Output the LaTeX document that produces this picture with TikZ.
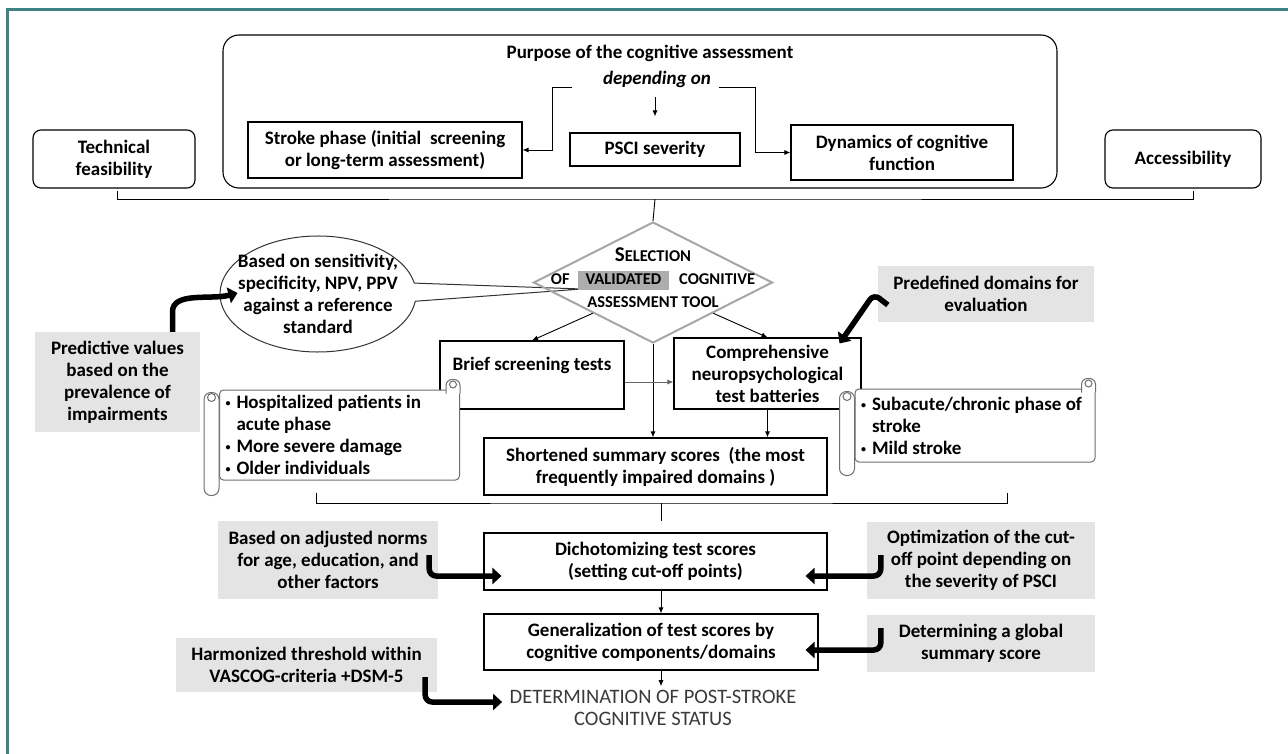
\documentclass[tikz,border=0pt]{standalone}
\usepackage{fontspec}
\setmainfont{Carlito}
\usepackage{tikz}
\usetikzlibrary{arrows.meta,positioning,shapes.geometric,shapes.callouts}
\definecolor{frameTeal}{HTML}{3F8283}
\definecolor{noteGray}{HTML}{E4E4E4}
\definecolor{hlGray}{HTML}{ADADAD}
\definecolor{guardGray}{HTML}{A6A6A6}
\definecolor{scrollGray}{HTML}{6E6E6E}
\definecolor{statusGray}{HTML}{3A3A3A}

\begin{document}
\begin{tikzpicture}[
  x=1pt,y=1pt,
  txt/.style={font=\fontsize{19}{22}\selectfont\bfseries},
  box/.style={txt,rectangle,draw=black,fill=white,line width=1.1pt,align=center,inner sep=1pt},
  rbox/.style={box,rounded corners=8pt},
  note/.style={txt,rectangle,fill=noteGray,align=center,inner sep=0pt},
  scrollbody/.style={txt,rectangle,rounded corners=4pt,draw=scrollGray,fill=white,line width=1pt,align=flush left,inner xsep=6pt,inner ysep=0pt,text width=228pt},
  scrl/.style={draw=scrollGray,fill=white,line width=1pt},
  guard/.style={diamond,draw=guardGray,line width=2pt,inner sep=0pt,minimum width=239pt,minimum height=121pt},
  arrow/.style={-{Latex[length=6pt,width=5pt]},line width=0.9pt},
  greyarrow/.style={-{Latex[length=6pt,width=5pt]},line width=0.7pt,draw=black!60},
  link/.style={line width=0.9pt},
  fat/.style={-{Triangle[length=9pt,width=16pt]},line width=5.5pt,rounded corners=7pt}
]
\useasboundingbox (0,0) rectangle (1288,-754);
\draw[frameTeal,line width=3pt] (7,-754) -- (7,-10) -- (1288,-10);

% top row
\node[rbox,rounded corners=16pt,minimum width=834pt,minimum height=153pt] (purpose) at (640,-111.5) {};
\node[txt] (ptitle) at (650,-53) {Purpose of the cognitive assessment};
\node[txt,font=\fontsize{19}{22}\selectfont\bfseries\itshape,inner sep=0pt] (dep) at (657,-79) {depending on};
\node[rbox,minimum width=162pt,minimum height=58pt] (tech) at (114,-159) {Technical\\feasibility};
\node[rbox,minimum width=156pt,minimum height=58pt] (access) at (1183,-159) {Accessibility};
\node[box,minimum width=274pt,minimum height=56pt] (phase) at (385,-150) {Stroke phase (initial\ \ screening\\or long-term assessment)};
\node[box,minimum width=170pt,minimum height=33pt] (psci) at (655,-149.5) {PSCI severity};
\node[box,minimum width=222pt,minimum height=55pt] (dyn) at (902,-152.5) {Dynamics of cognitive\\function};
\draw[arrow] ([xshift=-31pt,yshift=-8pt]dep.west) -- ++(-19,0) |- (phase.east);
\draw[arrow] ([xshift=8pt,yshift=-8pt]dep.east) -- ++(36,0) |- (dyn.west);
\draw[arrow,shorten <=10pt,shorten >=16pt] (psci.north |- dep.south) -- (psci.north);

% selection
\coordinate (br1) at (655,-199);
\node[ellipse callout,draw=black!80,fill=white,line width=1pt,inner sep=0pt,minimum width=196pt,minimum height=116pt,
  callout absolute pointer={(582,-289)},callout pointer arc=18] (crit) at (318,-294) {};
\node[guard] (sel) at (653,-282.5) {};
\draw[link] ([xshift=3pt,yshift=-2pt]tech.south) |- (br1) -| ([xshift=10pt,yshift=-2pt]access.south);
\draw[link] (br1) -- (sel.north);
\node[align=center,font=\fontsize{16.5}{23}\selectfont\bfseries] (selt) at ([yshift=5pt]sel.center) {{\fontsize{21}{23}\selectfont S}ELECTION\\OF\hspace{8pt}\colorbox{hlGray}{\hspace{5pt}\rule[-3pt]{0pt}{12pt}VALIDATED\hspace{5pt}}\hspace{10pt}COGNITIVE\\ASSESSMENT TOOL};
\node[txt,align=center] (critt) at (crit) {Based on sensitivity,\\specificity, NPV, PPV\\against a reference\\standard};
\node[note,minimum width=165pt,minimum height=100pt] (pred) at (117.5,-382) {Predictive values\\based on the\\prevalence of\\impairments};
\node[note,minimum width=216pt,minimum height=56pt] (predef) at (986,-294) {Predefined domains for\\evaluation};
\draw[fat] ([xshift=55pt]pred.north) -- ++(0,13) to[out=90,in=195] ([xshift=18pt,yshift=1pt]crit.west);

% test types
\node[box,minimum width=184pt,minimum height=68pt] (brief) at (532,-375) {Brief screening tests\\\mbox{}};
\node[box,minimum width=187pt,minimum height=71pt] (comp) at (767.5,-373.5) {Comprehensive\\neuropsychological\\test batteries};
\node[box,minimum width=343pt,minimum height=57pt] (short) at (655.5,-466.5) {Shortened summary scores\ \ (the most\\frequently impaired domains )};
\draw[arrow] (sel.south west) -- (brief.north);
\draw[arrow] (sel.south east) -- (comp.north);
\draw[arrow] (sel.south) -- (sel.south |- short.north);
\draw[arrow] (comp.south) -- (comp.south |- short.north);
\draw[greyarrow] ([yshift=-7pt]brief.east) -- ([yshift=-8.5pt]comp.west);
\draw[fat] ([xshift=10pt,yshift=-11pt]predef.west) -- ++(-14,11) -- ([xshift=-22pt,yshift=-6pt]comp.north east);

% scrolls
\node[scrollbody,minimum height=90pt] (acute) at (339.5,-435) {\makebox[11pt][l]{\raisebox{2pt}{\fontsize{10}{22}\selectfont\textbullet}}Hospitalized patients in\\\hspace*{11pt}acute phase\\\makebox[11pt][l]{\raisebox{2pt}{\fontsize{10}{22}\selectfont\textbullet}}More severe damage\\\makebox[11pt][l]{\raisebox{2pt}{\fontsize{10}{22}\selectfont\textbullet}}Older individuals};
\draw[scrl,rounded corners=7pt] ([xshift=-15pt,yshift=-3pt]acute.north west) rectangle ([yshift=-15pt]acute.south west);
\draw[scrl] ([xshift=-7.5pt,yshift=-8pt]acute.north west) circle[radius=4pt];
\draw[scrl,rounded corners=6pt] ([xshift=-14pt,yshift=-4pt]acute.north east) -- ++(0,14) -- ++(14,0) -- ++(0,-14);
\draw[scrl] ([xshift=-7pt,yshift=5pt]acute.north east) circle[radius=3.5pt];
\node[scrollbody,minimum height=73pt] (sub) at (975,-425.5) {\makebox[11pt][l]{\raisebox{2pt}{\fontsize{10}{22}\selectfont\textbullet}}Subacute/chronic phase of\\\hspace*{11pt}stroke\\\makebox[11pt][l]{\raisebox{2pt}{\fontsize{10}{22}\selectfont\textbullet}}Mild stroke};
\draw[scrl,rounded corners=7pt] ([xshift=-15pt,yshift=-3pt]sub.north west) rectangle ([yshift=-13pt]sub.south west);
\draw[scrl] ([xshift=-7.5pt,yshift=-8pt]sub.north west) circle[radius=4pt];
\draw[scrl,rounded corners=6pt] ([xshift=-14pt,yshift=-4pt]sub.north east) -- ++(0,14) -- ++(14,0) -- ++(0,-14);
\draw[scrl] ([xshift=-7pt,yshift=5pt]sub.north east) circle[radius=3.5pt];

% scoring
\coordinate (br2) at (661,-503);
\node[box,minimum width=343pt,minimum height=57pt] (dich) at (655.5,-561.5) {Dichotomizing test scores\\(setting cut-off points)};
\node[box,minimum width=334pt,minimum height=56pt] (gen) at (651,-642) {Generalization of test scores by\\cognitive components/domains};
\node[align=center,text=statusGray,font=\fontsize{20.5}{22}\selectfont] (det) at (653,-707.5) {DETERMINATION OF POST-STROKE\\COGNITIVE STATUS};
\draw[link] ([xshift=-23.5pt,yshift=-12pt]acute.south) |- (br2) -| ([xshift=32pt,yshift=-30pt]sub.south);
\draw[link,shorten >=11pt] (br2) -- (br2 |- dich.north);
\draw[arrow] ([xshift=5.5pt]dich.south) -- ([xshift=10pt]gen.north);
\draw[arrow] ([xshift=10pt]gen.south) -- ([xshift=8pt]det.north);

\node[note,minimum width=220pt,minimum height=78pt] (norms) at (328,-560) {Based on adjusted norms\\for age, education, and\\other factors};
\node[note,minimum width=228pt,minimum height=77pt] (optim) at (981,-560.5) {Optimization of the cut-\\off point depending on\\the severity of PSCI};
\node[note,minimum width=228pt,minimum height=57pt] (global) at (981,-643.5) {Determining a global\\summary score};
\node[note,minimum width=261pt,minimum height=54pt] (harm) at (306.5,-665) {Harmonized threshold within\\VASCOG-criteria +DSM-5};
\draw[fat] ([xshift=-9pt,yshift=5pt]norms.east) |- ([xshift=18pt,yshift=-14.5pt]dich.west);
\draw[fat] ([xshift=14pt,yshift=5.5pt]optim.west) |- ([xshift=-22pt,yshift=-14.5pt]dich.east);
\draw[fat] ([xshift=14pt,yshift=15.5pt]global.west) |- ([xshift=-13pt,yshift=-8pt]gen.east);
\draw[fat] ([xshift=-12pt,yshift=-12pt]harm.east) |- ([xshift=-4pt,yshift=5.5pt]det.west);
\end{tikzpicture}
\end{document}
